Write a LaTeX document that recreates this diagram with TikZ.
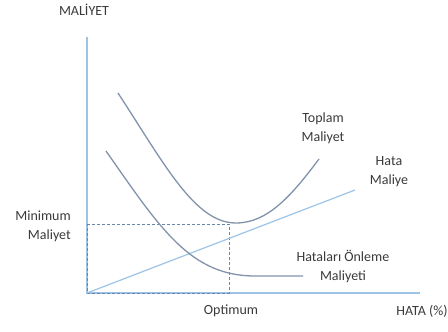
\documentclass[tikz,border=0pt]{standalone}
\usepackage{fontspec}
\setmainfont{Carlito}
\definecolor{axisblue}{HTML}{9DC3E6}
\definecolor{curvegray}{HTML}{8193AB}
\definecolor{dashblue}{HTML}{6A86AD}
\definecolor{txt}{HTML}{3A3A3A}
\begin{document}
\begin{tikzpicture}[x=1pt,y=-1pt,
  lbl/.style={text=txt,font=\fontsize{14}{19}\selectfont,inner sep=0pt,align=center},
  axisline/.style={draw=axisblue,line width=1.2pt},
  curve/.style={draw=curvegray,line width=1.3pt},
  errline/.style={draw=axisblue,line width=1.2pt},
  dashline/.style={draw=dashblue,line width=0.9pt,dash pattern=on 3pt off 2pt}]
\useasboundingbox (0,0) rectangle (448,332);
% axes
\coordinate (O) at (87,293);
\coordinate (ytop) at (87,37);
\coordinate (xend) at (420,293);
\draw[axisline] (ytop) -- (O) -- (xend);
% optimum rectangle
\coordinate (mincost) at (87,224);
\coordinate (optpt) at (229,224);
\coordinate (optx) at (229,293);
\draw[dashline] (mincost) -- (optpt) -- (optx) -- (O) -- cycle;
% error cost line
\coordinate (errend) at (355,190);
\draw[errline] (O) -- (errend);
% total cost
\coordinate (ts) at (118,93);
\coordinate (tm) at (236,223);
\coordinate (te) at (319,159);
\draw[curve] (ts) .. controls (165,165) and (195,223) .. (tm) .. controls (268,223) and (292,195) .. (te);
% prevention cost
\coordinate (ps) at (106,151);
\coordinate (pm) at (255,276);
\coordinate (pe) at (303,276);
\draw[curve] (ps) .. controls (160,228) and (190,276) .. (pm) -- (pe);
% labels
\node[lbl] (ylab) at (84,10) {MALİYET};
\node[lbl] (tlab) at (323,128) {Toplam\\Maliyet};
\node[lbl] (hlab) at (389,172) {Hata\\Maliye};
\node[lbl,align=right,anchor=east] (mlab) at (71,226) {Minimum\\Maliyet};
\node[lbl] (plab) at (343,267) {Hataları Önleme\\Maliyeti};
\node[lbl] (olab) at (231,311) {Optimum};
\node[lbl] (xlab) at (422,311) {HATA (\%)};
\end{tikzpicture}
\end{document}
